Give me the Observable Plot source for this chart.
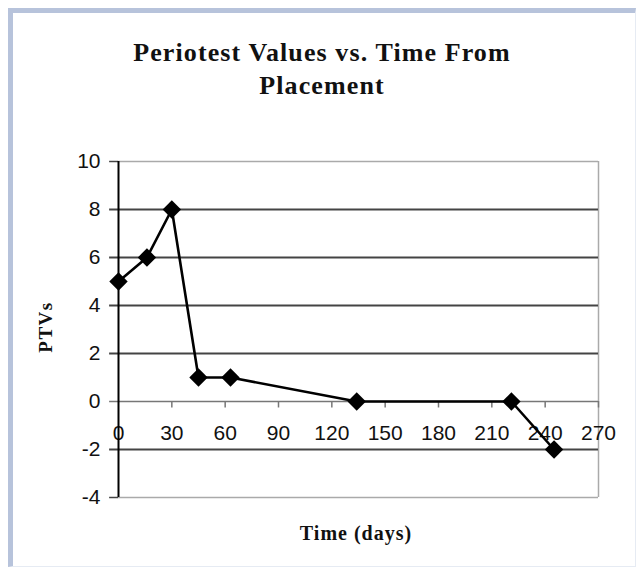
<!DOCTYPE html>
<html>
<head>
<meta charset="utf-8">
<script src="https://cdn.jsdelivr.net/npm/d3@7"></script>
<script src="https://cdn.jsdelivr.net/npm/@observablehq/plot@0.6"></script>
<style>
  html, body { margin: 0; padding: 0; background: #fff; }
  #wrap { position: relative; width: 637px; height: 572px; overflow: hidden; background: #fff; }
  #frame { position: absolute; left: 8px; top: 8px; width: 622px; height: 553px;
           border-top: 5px solid #b7c3db; border-left: 5px solid #b7c3db;
           border-right: 1px solid #e6ebf3; border-bottom: 1px solid #e6ebf3; }
  #chart { position: absolute; left: 0; top: 0; }
  .serif { font-family: "Liberation Serif", "Times New Roman", serif; font-weight: bold; color: #111; }
  #title { position: absolute; left: 0; top: 36px; width: 644px; text-align: center;
           font-size: 26px; line-height: 33px; letter-spacing: 1.1px; }
  #ylab { position: absolute; left: 46px; top: 327px; font-size: 19px; letter-spacing: 1.5px;
          transform: translate(-50%, -50%) rotate(-90deg); white-space: nowrap; }
  #xlab { position: absolute; left: 0; width: 712px; top: 523px; text-align: center;
          font-size: 20px; line-height: 20px; letter-spacing: 1px; }
</style>
</head>
<body>
<div id="wrap">
  <div id="frame"></div>
  <div id="chart"></div>
  <div id="title" class="serif">Periotest Values vs. Time From<br>Placement</div>
  <div id="ylab" class="serif">PTVs</div>
  <div id="xlab" class="serif">Time (days)</div>
</div>
<script>
const days = [0, 16, 30, 45, 63, 134, 221, 245];
const ptvs = [5, 6, 8, 1, 1, 0, 0, -2];
const xTicks = [0, 30, 60, 90, 120, 150, 180, 210, 240, 270];
const yTicks = [-4, -2, 0, 2, 4, 6, 8, 10];
const gridLines = [-2, 2, 4, 6, 8];

const data = days.map((d, i) => ({day: d, ptv: ptvs[i]}));
const fmt = d => (d < 0 ? "-" + Math.abs(d) : String(d));

const chart = Plot.plot({
  width: 637,
  height: 572,
  marginLeft: 118,
  marginRight: 39,
  marginTop: 161,
  marginBottom: 75,
  style: {fontFamily: "'Liberation Sans', Arial, sans-serif", fontSize: "21px", color: "#111", background: "transparent"},
  x: {domain: [0, 270], axis: null},
  y: {domain: [-4, 10], axis: null},
  marks: [
    Plot.ruleY([10, -4], {stroke: "#aaa", strokeWidth: 1.5}),
    Plot.ruleX([270], {stroke: "#aaa", strokeWidth: 1.5}),
    Plot.ruleY(gridLines, {x1: -5, x2: 270, stroke: "#444", strokeWidth: 1.8}),
    Plot.ruleY([0], {x1: -5, x2: 270, stroke: "#777", strokeWidth: 1.6}),
    Plot.ruleY([10, -4], {x1: -5, x2: 0, stroke: "#444", strokeWidth: 1.5}),
    Plot.ruleX(xTicks.filter(d => d > 0), {x: d => d, y1: 0, y2: -0.27, stroke: "#777", strokeWidth: 1.5}),
    Plot.text(yTicks, {x: 0, y: d => d, text: fmt, textAnchor: "end", dx: -18, fill: "#111"}),
    Plot.text(xTicks, {x: d => d, y: 0, text: fmt, dy: 32, fill: "#111"}),
    Plot.ruleX([0], {stroke: "#000", strokeWidth: 2}),
    Plot.line(data, {x: "day", y: "ptv", stroke: "#000", strokeWidth: 2.6}),
    Plot.dot(data, {x: "day", y: "ptv", symbol: "diamond2", r: 8.3, fill: "#000", stroke: "none"})
  ]
});
document.getElementById("chart").appendChild(chart);
</script>
</body>
</html>
